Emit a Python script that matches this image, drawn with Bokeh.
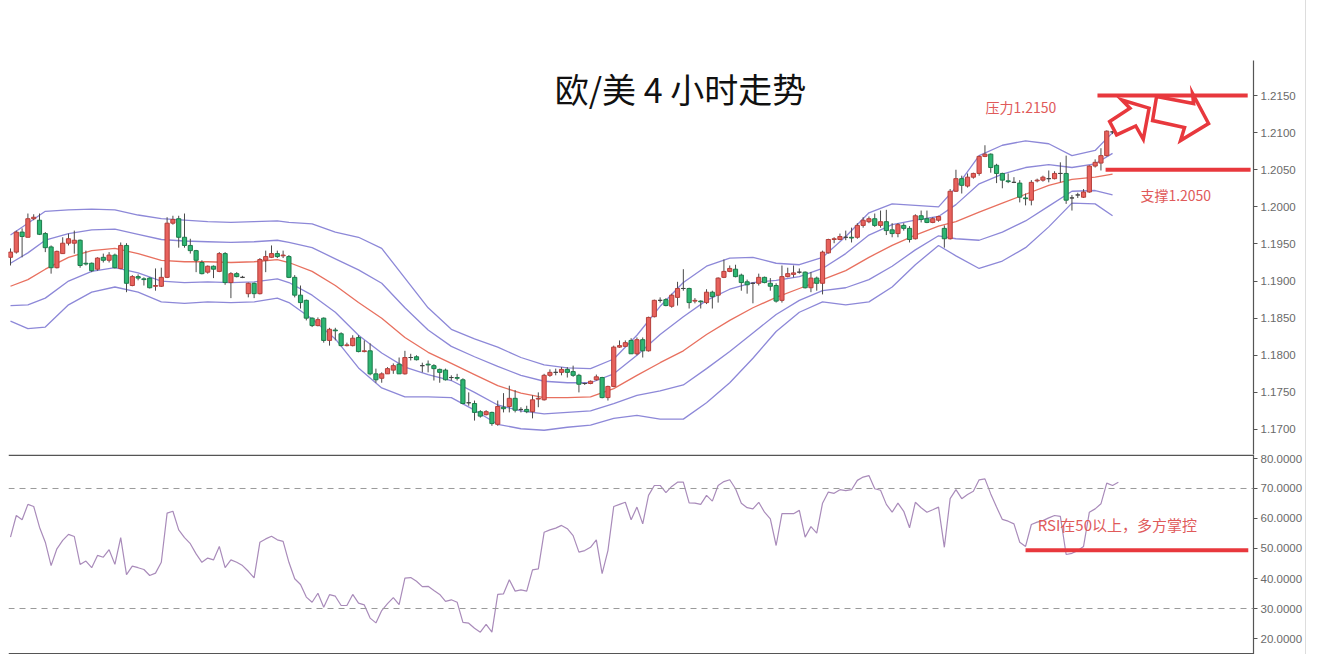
from bokeh.plotting import figure
from bokeh.models import Range1d, FixedTicker, NumeralTickFormatter, Span, ColumnDataSource
from bokeh.layouts import column
from bokeh.embed import file_html
from bokeh.resources import INLINE
from bokeh.core.properties import value

# ---------------- data (EUR/USD 4H) ----------------
opens = [1.1932,1.1939,1.1966,1.1959,1.1984,1.1982,1.1964,1.1946,1.1918,1.1937,
         1.1951,1.1951,1.1955,1.1924,1.1924,1.1916,1.1932,1.1928,1.1935,1.1917,
         1.1948,1.1894,1.1906,1.1903,1.1904,1.1893,1.1893,1.1905,1.1978,1.1984,
         1.1959,1.1948,1.1941,1.1925,1.1912,1.1920,1.1913,1.1937,1.1898,1.1910,
         1.1905,1.1883,1.1897,1.1883,1.1928,1.1932,1.1937,1.1934,1.1933,1.1905,
         1.1881,1.1874,1.1850,1.1840,1.1850,1.1820,1.1834,1.1829,1.1813,1.1813,
         1.1824,1.1805,1.1806,1.1775,1.1769,1.1775,1.1780,1.1788,1.1775,1.1797,
         1.1798,1.1786,1.1788,1.1786,1.1781,1.1780,1.1770,1.1770,1.1767,1.1736,
         1.1735,1.1724,1.1720,1.1723,1.1707,1.1730,1.1731,1.1742,1.1727,1.1727,
         1.1724,1.1741,1.1740,1.1773,1.1777,1.1777,1.1781,1.1778,1.1773,1.1762,
         1.1762,1.1767,1.1770,1.1743,1.1758,1.1811,1.1812,1.1820,1.1802,1.1821,
         1.1806,1.1852,1.1874,1.1875,1.1866,1.1878,1.1890,1.1890,1.1873,1.1873,
         1.1871,1.1885,1.1881,1.1905,1.1913,1.1916,1.1908,1.1899,1.1897,1.1897,
         1.1905,1.1897,1.1894,1.1874,1.1906,1.1909,1.1912,1.1912,1.1891,1.1904,
         1.1897,1.1938,1.1956,1.1956,1.1959,1.1959,1.1959,1.1975,1.1980,1.1984,
         1.1975,1.1980,1.1969,1.1964,1.1975,1.1971,1.1957,1.1988,1.1984,1.1979,
         1.1982,1.1971,1.1957,1.2021,1.2038,1.2028,1.2040,1.2045,1.2068,1.2071,
         1.2056,1.2045,1.2035,1.2033,1.2032,1.2012,1.2009,1.2035,1.2036,1.2038,
         1.2038,1.2045,1.2045,1.2012,1.2016,1.2013,1.2020,1.2055,1.2059,1.2069,
         1.2101]
highs = [1.1944,1.1968,1.1971,1.1991,1.1990,1.1991,1.1966,1.1948,1.1941,1.1959,
         1.1964,1.1968,1.1956,1.1941,1.1925,1.1932,1.1937,1.1939,1.1937,1.1952,
         1.1951,1.1908,1.1909,1.1905,1.1905,1.1917,1.1918,1.1986,1.1988,1.1988,
         1.1991,1.1957,1.1942,1.1928,1.1921,1.1921,1.1939,1.1939,1.1912,1.1912,
         1.1907,1.1898,1.1898,1.1931,1.1941,1.1948,1.1941,1.1941,1.1935,1.1908,
         1.1894,1.1875,1.1851,1.1851,1.1851,1.1837,1.1837,1.1831,1.1817,1.1827,
         1.1827,1.1820,1.1816,1.1782,1.1777,1.1784,1.1789,1.1797,1.1806,1.1802,
         1.1800,1.1790,1.1793,1.1788,1.1782,1.1782,1.1773,1.1775,1.1769,1.1750,
         1.1739,1.1726,1.1726,1.1724,1.1739,1.1749,1.1759,1.1753,1.1730,1.1732,
         1.1746,1.1750,1.1775,1.1781,1.1782,1.1784,1.1784,1.1786,1.1775,1.1763,
         1.1766,1.1774,1.1771,1.1759,1.1813,1.1820,1.1820,1.1823,1.1824,1.1824,
         1.1852,1.1875,1.1878,1.1877,1.1883,1.1899,1.1916,1.1891,1.1877,1.1874,
         1.1889,1.1887,1.1905,1.1929,1.1921,1.1922,1.1910,1.1902,1.1898,1.1910,
         1.1906,1.1904,1.1897,1.1921,1.1918,1.1921,1.1917,1.1913,1.1912,1.1906,
         1.1941,1.1957,1.1959,1.1964,1.1968,1.1972,1.1978,1.1986,1.1987,1.1991,
         1.1995,1.1996,1.1978,1.1978,1.1978,1.1974,1.1990,1.1995,1.1995,1.1986,
         1.1988,1.1975,1.2024,1.2050,1.2042,1.2045,1.2046,1.2069,1.2083,1.2072,
         1.2058,1.2046,1.2045,1.2040,1.2036,1.2018,1.2036,1.2038,1.2042,1.2049,
         1.2048,1.2060,1.2069,1.2016,1.2019,1.2024,1.2056,1.2064,1.2079,1.2103,
         1.2102]
lows = [1.1921,1.1937,1.1932,1.1959,1.1982,1.1962,1.1939,1.1910,1.1917,1.1937,
        1.1948,1.1937,1.1918,1.1921,1.1912,1.1914,1.1925,1.1925,1.1917,1.1916,
        1.1885,1.1893,1.1901,1.1894,1.1890,1.1887,1.1892,1.1904,1.1976,1.1945,
        1.1945,1.1937,1.1912,1.1909,1.1910,1.1904,1.1912,1.1895,1.1877,1.1905,
        1.1904,1.1878,1.1877,1.1882,1.1912,1.1931,1.1931,1.1931,1.1904,1.1878,
        1.1863,1.1847,1.1838,1.1839,1.1817,1.1813,1.1820,1.1812,1.1812,1.1812,
        1.1804,1.1804,1.1773,1.1763,1.1763,1.1775,1.1775,1.1775,1.1774,1.1793,
        1.1793,1.1777,1.1777,1.1766,1.1763,1.1766,1.1766,1.1766,1.1734,1.1732,
        1.1712,1.1716,1.1719,1.1705,1.1705,1.1723,1.1723,1.1723,1.1723,1.1722,
        1.1715,1.1730,1.1739,1.1771,1.1773,1.1773,1.1770,1.1771,1.1750,1.1760,
        1.1761,1.1766,1.1742,1.1739,1.1757,1.1810,1.1811,1.1802,1.1800,1.1797,
        1.1805,1.1851,1.1871,1.1866,1.1864,1.1867,1.1887,1.1863,1.1870,1.1863,
        1.1869,1.1863,1.1871,1.1904,1.1912,1.1905,1.1887,1.1883,1.1870,1.1894,
        1.1897,1.1887,1.1871,1.1871,1.1905,1.1905,1.1910,1.1890,1.1885,1.1887,
        1.1882,1.1937,1.1951,1.1955,1.1955,1.1952,1.1957,1.1972,1.1978,1.1973,
        1.1972,1.1962,1.1959,1.1959,1.1968,1.1952,1.1956,1.1979,1.1978,1.1978,
        1.1980,1.1945,1.1956,1.2020,1.2018,1.2026,1.2038,1.2042,1.2067,1.2046,
        1.2032,1.2025,1.2032,1.2032,1.2006,1.2002,1.2002,1.2033,1.2034,1.2033,
        1.2037,1.2033,1.2004,1.1995,1.2012,1.2012,1.2019,1.2053,1.2049,1.2068,
        1.2098]
closes = [1.1939,1.1966,1.1960,1.1984,1.1986,1.1963,1.1945,1.1918,1.1940,1.1951,
          1.1957,1.1955,1.1921,1.1923,1.1914,1.1931,1.1928,1.1935,1.1918,1.1948,
          1.1897,1.1906,1.1904,1.1902,1.1891,1.1894,1.1905,1.1978,1.1983,1.1959,
          1.1948,1.1941,1.1928,1.1910,1.1920,1.1916,1.1937,1.1898,1.1910,1.1906,
          1.1905,1.1897,1.1883,1.1929,1.1933,1.1937,1.1933,1.1935,1.1905,1.1881,
          1.1871,1.1850,1.1840,1.1848,1.1820,1.1835,1.1833,1.1813,1.1814,1.1823,
          1.1805,1.1806,1.1775,1.1767,1.1775,1.1782,1.1786,1.1775,1.1797,1.1797,
          1.1794,1.1786,1.1787,1.1782,1.1777,1.1767,1.1770,1.1769,1.1735,1.1736,
          1.1723,1.1718,1.1724,1.1708,1.1731,1.1728,1.1742,1.1726,1.1727,1.1724,
          1.1740,1.1742,1.1773,1.1777,1.1777,1.1781,1.1777,1.1773,1.1761,1.1762,
          1.1765,1.1771,1.1743,1.1758,1.1811,1.1813,1.1817,1.1802,1.1821,1.1806,
          1.1851,1.1874,1.1874,1.1867,1.1881,1.1890,1.1890,1.1871,1.1874,1.1872,
          1.1885,1.1879,1.1904,1.1913,1.1917,1.1906,1.1898,1.1895,1.1897,1.1905,
          1.1898,1.1893,1.1873,1.1906,1.1910,1.1911,1.1912,1.1891,1.1904,1.1897,
          1.1939,1.1956,1.1957,1.1960,1.1959,1.1958,1.1975,1.1982,1.1984,1.1975,
          1.1980,1.1968,1.1964,1.1976,1.1971,1.1956,1.1988,1.1983,1.1979,1.1984,
          1.1987,1.1957,1.2021,1.2038,1.2029,1.2040,1.2045,1.2068,1.2071,1.2053,
          1.2045,1.2036,1.2034,1.2033,1.2013,1.2011,1.2033,1.2036,1.2040,1.2038,
          1.2045,1.2045,1.2009,1.2012,1.2016,1.2020,1.2055,1.2060,1.2069,1.2102,
          1.2101]

rsi = [53.8,61.0,59.6,64.7,64.0,57.1,52.1,44.3,49.9,52.7,
       54.7,54.0,44.7,45.8,43.6,47.7,47.1,49.6,44.7,53.6,
       41.3,44.1,43.6,43.0,41.0,41.8,45.4,61.8,62.4,56.2,
       53.6,51.6,48.2,45.4,46.8,46.2,50.7,43.6,46.2,45.4,
       44.3,42.4,40.2,52.1,53.2,54.1,52.9,52.4,45.4,39.9,
       38.0,33.8,32.1,35.1,30.4,34.6,34.1,31.0,31.0,34.7,
       31.8,31.2,26.8,25.2,29.3,31.6,33.6,31.3,40.1,40.3,
       39.1,37.3,37.4,36.0,34.7,32.4,32.9,32.1,25.4,25.1,
       23.4,22.1,24.7,22.1,34.7,34.9,39.6,35.8,36.2,35.8,
       42.9,43.2,55.4,56.2,56.8,57.7,56.6,54.3,48.8,49.3,
       50.4,52.9,41.6,49.3,64.0,64.7,65.4,59.6,63.8,58.2,
       67.7,71.0,71.0,68.6,70.7,72.1,72.1,65.2,65.1,64.7,
       67.7,65.8,71.0,72.3,72.9,69.9,65.1,63.6,63.2,65.4,
       62.1,59.9,51.0,61.6,61.6,61.6,62.7,53.8,57.3,55.1,
       65.1,68.8,68.4,69.6,69.3,69.6,72.7,73.8,74.3,69.9,
       69.4,64.7,62.1,65.1,62.4,56.9,65.4,63.6,62.1,62.9,
       63.8,50.4,66.6,69.6,66.6,68.0,69.1,72.9,73.2,68.2,
       63.8,59.7,59.1,58.2,52.1,50.7,58.0,58.8,59.3,60.2,
       61.0,60.7,48.0,48.4,49.3,50.7,62.1,63.2,64.9,71.8,
       71.0,72.1]

# Bollinger band values read at these bar positions
band_idx = [0,3,6,10,14,18,22,26,30,34,38,42,46,48,52,56,60,64,68,72,
            76,80,84,88,92,96,100,104,108,112,116,120,124,128,132,136,140,144,148,152,
            156,160,163,167,171,175,179,183,187,190]
bb_up2 = [1.1962,1.1978,1.1994,1.1996,1.1997,1.1996,1.1989,1.1984,1.1982,1.1980,
          1.1979,1.1980,1.1981,1.1979,1.1977,1.1966,1.1959,1.1944,1.1904,1.1864,
          1.1835,1.1822,1.1811,1.1797,1.1787,1.1783,1.1782,1.1795,1.1827,1.1866,
          1.1898,1.1920,1.1931,1.1932,1.1924,1.1922,1.1932,1.1960,1.1992,1.2004,
          1.2002,1.2000,1.2026,1.2069,1.2083,1.2089,1.2085,1.2069,1.2076,1.2100]
bb_up1 = [1.1924,1.1938,1.1955,1.1964,1.1969,1.1970,1.1963,1.1956,1.1954,1.1953,
          1.1952,1.1953,1.1955,1.1952,1.1945,1.1930,1.1915,1.1897,1.1864,1.1834,
          1.1812,1.1798,1.1785,1.1773,1.1765,1.1763,1.1763,1.1775,1.1800,1.1828,
          1.1852,1.1874,1.1889,1.1898,1.1901,1.1906,1.1917,1.1937,1.1962,1.1976,
          1.1982,1.1987,1.2003,1.2031,1.2044,1.2053,1.2057,1.2053,1.2058,1.2072]
bb_mid = [1.1893,1.1902,1.1916,1.1932,1.1941,1.1944,1.1937,1.1928,1.1926,1.1926,
          1.1925,1.1926,1.1929,1.1925,1.1913,1.1894,1.1871,1.1850,1.1824,1.1804,
          1.1789,1.1774,1.1759,1.1749,1.1743,1.1743,1.1744,1.1755,1.1773,1.1790,
          1.1806,1.1828,1.1847,1.1864,1.1878,1.1890,1.1902,1.1914,1.1932,1.1948,
          1.1962,1.1974,1.1980,1.1993,1.2005,1.2017,1.2029,1.2037,1.2040,1.2044]
bb_lo1 = [1.1867,1.1868,1.1877,1.1900,1.1913,1.1918,1.1911,1.1900,1.1898,1.1899,
          1.1898,1.1899,1.1903,1.1898,1.1881,1.1858,1.1827,1.1803,1.1784,1.1774,
          1.1766,1.1750,1.1733,1.1725,1.1721,1.1723,1.1725,1.1735,1.1746,1.1752,
          1.1760,1.1782,1.1805,1.1830,1.1855,1.1874,1.1887,1.1891,1.1902,1.1920,
          1.1942,1.1961,1.1957,1.1955,1.1966,1.1981,1.2001,1.2021,1.2022,1.2016]
bb_lo2 = [1.1846,1.1836,1.1838,1.1868,1.1885,1.1892,1.1885,1.1872,1.1870,1.1872,
          1.1871,1.1872,1.1877,1.1871,1.1849,1.1822,1.1783,1.1756,1.1744,1.1744,
          1.1743,1.1726,1.1707,1.1701,1.1699,1.1703,1.1706,1.1715,1.1719,1.1714,
          1.1714,1.1736,1.1763,1.1796,1.1832,1.1858,1.1872,1.1868,1.1872,1.1892,
          1.1922,1.1948,1.1934,1.1917,1.1927,1.1945,1.1973,1.2005,1.2004,1.1988]

price_ticks = [1.1700,1.1750,1.1800,1.1850,1.1900,1.1950,1.2000,1.2050,1.2100,1.2150]
rsi_ticks = [20,30,40,50,60,70,80]
rsi_levels = [30,70]

title_text = "欧/美 4 小时走势"
title_pos = [115.5, 1.21594]
resistance = 1.2150
resistance_x = [187.4, 213.3]
resistance_text = "压力1.2150"
resistance_text_pos = [168.1, 1.21352]
support = 1.2050
support_x = [188.8, 213.8]
support_text = "支撑1.2050"
support_text_pos = [194.8, 1.20153]
arrow1_x = [189.50, 193.00, 191.60, 196.30, 195.30, 194.00, 190.70]
arrow1_y = [1.21150, 1.21330, 1.21440, 1.21330, 1.20910, 1.21090, 1.20970]
arrow2_x = [197.59, 203.97, 203.79, 206.55, 201.72, 202.41, 196.90]
arrow2_y = [1.21487, 1.21392, 1.21527, 1.21123, 1.20894, 1.21069, 1.21163]
rsi_mark = 49.4
rsi_mark_x = [175.0, 213.4]
rsi_text = "RSI在50以上，多方掌控"
rsi_text_pos = [177.1, 58.0]

# ---------------- styling ----------------
RED_TXT = "#e05a5a"
RED_LINE = "#e8383d"
BAND = "#8d88d8"
MID = "#e8705f"
AX = "#555555"
LBL = "#6a6a6a"
FW = 1245
LEFT = 8

n = len(opens)
idx = list(range(n))
body_top = [max(o, c) for o, c in zip(opens, closes)]
body_bot = [min(o, c) for o, c in zip(opens, closes)]
fills, edges = [], []
for o, c in zip(opens, closes):
    if c > o:
        fills.append("#e8625d"); edges.append("#b53f3a")
    elif c < o:
        fills.append("#2eb673"); edges.append("#1d7b4b")
    else:
        fills.append("#555555"); edges.append("#444444")
src = ColumnDataSource(dict(x=idx, o=opens, h=highs, l=lows, c=closes,
                            top=body_top, bot=body_bot, fill=fills, edge=edges))

x_rng = Range1d(-0.345, 214.3)

p = figure(frame_width=FW, frame_height=394, x_range=x_rng,
           y_range=Range1d(1.16663, 1.21972), output_backend="svg",
           toolbar_location=None, x_axis_location=None, y_axis_location="right",
           min_border_left=LEFT, min_border_top=60, min_border_bottom=0, min_border_right=50)
p.outline_line_color = None
p.grid.visible = False
p.background_fill_color = "white"
p.border_fill_color = "white"

ya = p.yaxis[0]
ya.ticker = FixedTicker(ticks=price_ticks)
ya.formatter = NumeralTickFormatter(format="0.0000")
ya.axis_line_color = AX
ya.axis_line_width = 1.2
ya.major_tick_line_color = AX
ya.major_tick_out = 4
ya.major_tick_in = 0
ya.minor_tick_line_color = None
ya.major_label_text_font = "Liberation Sans"
ya.major_label_text_font_size = "11.5px"
ya.major_label_text_color = LBL
ya.major_label_standoff = 3

# bands
p.line(band_idx, bb_up2, color=BAND, line_width=1.3)
p.line(band_idx, bb_up1, color=BAND, line_width=1.3)
p.line(band_idx, bb_lo1, color=BAND, line_width=1.3)
p.line(band_idx, bb_lo2, color=BAND, line_width=1.3)
p.line(band_idx, bb_mid, color=MID, line_width=1.3)

# candles
p.segment(x0="x", x1="x", y0="l", y1="h", source=src, color="#4a4a4a", line_width=1)
p.vbar(x="x", width=0.72, top="top", bottom="bot", source=src,
       fill_color="fill", line_color="edge", line_width=1)

# title
p.text(x=[title_pos[0]], y=[title_pos[1]], text=[title_text],
       text_font=value("Noto Sans CJK SC"), text_font_size="34px",
       text_align="center", text_baseline="middle", text_color="#111111")

# resistance / support
p.segment(x0=[resistance_x[0]], x1=[resistance_x[1]], y0=[resistance], y1=[resistance],
          color=RED_LINE, line_width=4)
p.segment(x0=[support_x[0]], x1=[support_x[1]], y0=[support], y1=[support],
          color=RED_LINE, line_width=4)
p.text(x=[resistance_text_pos[0]], y=[resistance_text_pos[1]], text=[resistance_text],
       text_font=value("Noto Sans CJK SC"), text_font_size="14px",
       text_align="left", text_baseline="middle", text_color=RED_TXT)
p.text(x=[support_text_pos[0]], y=[support_text_pos[1]], text=[support_text],
       text_font=value("Noto Sans CJK SC"), text_font_size="14px",
       text_align="left", text_baseline="middle", text_color=RED_TXT)
p.patch(arrow1_x, arrow1_y, fill_color="white", line_color=RED_LINE,
        line_width=3.5, line_join="miter")
p.patch(arrow2_x, arrow2_y, fill_color="white", line_color=RED_LINE,
        line_width=3.5, line_join="miter")

# ---------------- RSI panel ----------------
r = figure(frame_width=FW, frame_height=200, x_range=x_rng,
           y_range=Range1d(14.67, 81.33), output_backend="svg",
           toolbar_location=None, x_axis_location=None, y_axis_location="right",
           min_border_left=LEFT, min_border_top=0, min_border_bottom=0, min_border_right=50)
r.outline_line_color = None
r.grid.visible = False

ra = r.yaxis[0]
ra.ticker = FixedTicker(ticks=rsi_ticks)
ra.formatter = NumeralTickFormatter(format="0.0000")
ra.axis_line_color = AX
ra.axis_line_width = 1.2
ra.major_tick_line_color = AX
ra.major_tick_out = 4
ra.major_tick_in = 0
ra.minor_tick_line_color = None
ra.major_label_text_font = "Liberation Sans"
ra.major_label_text_font_size = "11.5px"
ra.major_label_text_color = LBL
ra.major_label_standoff = 3

for lv in rsi_levels:
    r.add_layout(Span(location=lv, dimension="width", line_color="#9a9a9a",
                      line_width=1, line_dash="6 5"))
r.add_layout(Span(location=81.05, dimension="width", line_color=AX, line_width=1.5))
r.add_layout(Span(location=14.95, dimension="width", line_color=AX, line_width=1.5))

r.line(list(range(len(rsi))), rsi, color="#a98bba", line_width=1.2)
r.segment(x0=[rsi_mark_x[0]], x1=[rsi_mark_x[1]], y0=[rsi_mark], y1=[rsi_mark],
          color=RED_LINE, line_width=4)
r.text(x=[rsi_text_pos[0]], y=[rsi_text_pos[1]], text=[rsi_text],
       text_font=value("Noto Sans CJK SC"), text_font_size="15px",
       text_align="left", text_baseline="middle", text_color=RED_TXT)

layout = column(p, r, spacing=0, styles={"border-right": "1px solid #dddddd"})
open("out.html", "w").write(file_html(layout, INLINE))
